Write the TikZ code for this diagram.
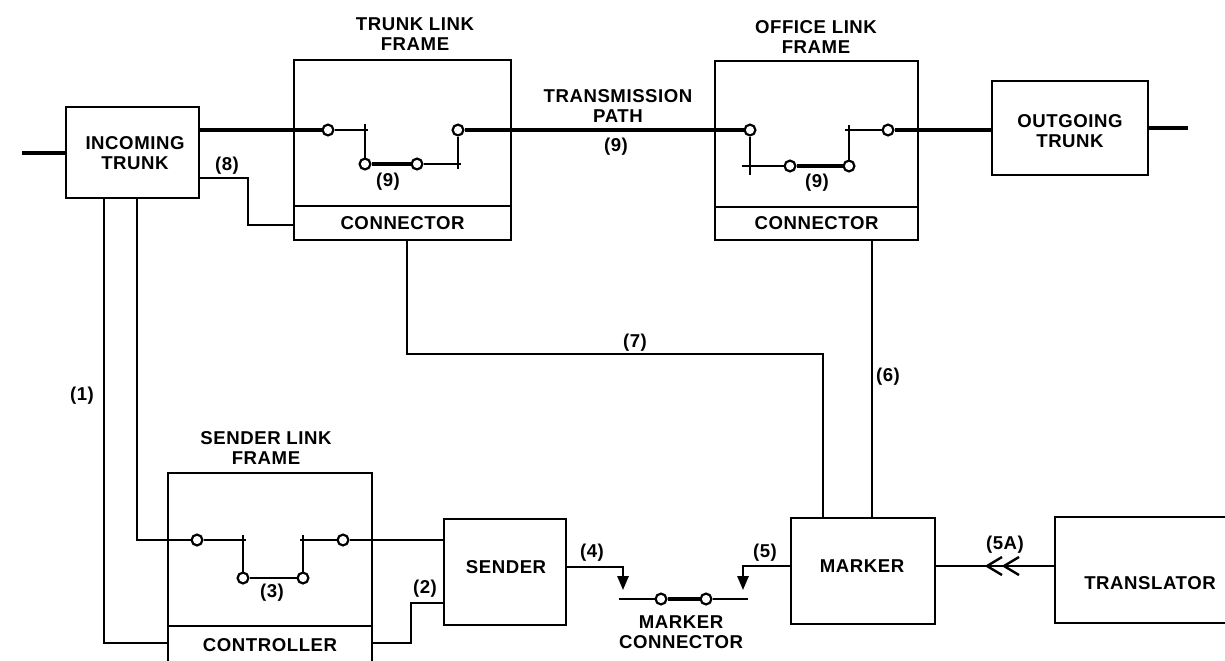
\documentclass[tikz,border=0pt]{standalone}
\usepackage{fontspec}
\setmainfont{Liberation Sans}
\newfontfamily\labfont[LetterSpace=3]{Liberation Sans}
\usetikzlibrary{arrows.meta,fit}
\begin{document}
\begin{tikzpicture}[x=0.5pt,y=-0.5pt,
  box/.style={draw, line width=1.1pt, inner sep=0pt, outer sep=0pt},
  thn/.style={line width=1.2pt},
  thk/.style={line width=2.4pt},
  mid/.style={line width=1.8pt},
  circ/.style={circle, draw, fill=white, inner sep=0pt, minimum size=5.4pt, line width=1.1pt},
  lbl/.style={font=\labfont\fontsize{9.3}{10}\selectfont\bfseries, align=center, inner sep=0pt},
  tip/.style={-{Triangle[length=7pt,width=5.6pt]}},
  line join=miter
]
\clip (0,0) rectangle (1225,660);
% boxes
\node[box, fit={(66,107)(199,198)}] (inc) {};
\node[box, fit={(294,60)(511,206)}] (tlf) {};
\node[box, fit={(294,206)(511,240)}] (tlc) {};
\node[box, fit={(715,61)(918,207)}] (olf) {};
\node[box, fit={(715,207)(918,240)}] (olc) {};
\node[box, fit={(992,81)(1148,175)}] (out) {};
\node[box, fit={(168,473)(372,626)}] (slf) {};
\node[box, fit={(168,626)(372,664)}] (ctl) {};
\node[box, fit={(444,519)(566,625)}] (snd) {};
\node[box, fit={(791,518)(935,624)}] (mkr) {};
\node[box, fit={(1055,517)(1262,623)}] (trn) {};
% switch contacts
\node[circ] (a1) at (328,130) {};
\node[circ] (a2) at (365,164) {};
\node[circ] (a3) at (417,164) {};
\node[circ] (a4) at (458,130) {};
\node[circ] (b1) at (750,130) {};
\node[circ] (b2) at (790,166) {};
\node[circ] (b3) at (849,166) {};
\node[circ] (b4) at (888,130) {};
\node[circ] (s1) at (197,540) {};
\node[circ] (s2) at (243,578) {};
\node[circ] (s3) at (303,578) {};
\node[circ] (s4) at (343,540) {};
\node[circ] (m1) at (661,599) {};
\node[circ] (m2) at (706,599) {};
% coordinates
\coordinate (w0) at (22,153);
\coordinate (w9) at (1188,128);
\coordinate (p8a) at (248,178);
\coordinate (p8b) at (248,225);
\coordinate (p7a) at (407,354);
\coordinate (p7b) at (823,354);
\coordinate (p6) at (872,300);
\coordinate (p1) at (104,643);
\coordinate (q1) at (137,540);
\coordinate (p2a) at (411,643);
\coordinate (p2b) at (411,603);
\coordinate (p4) at (623,567);
\coordinate (p4t) at (623,590);
\coordinate (p5) at (743,566);
\coordinate (p5t) at (743,590);
\coordinate (mc0) at (619,599);
\coordinate (mc3) at (748,599);
\coordinate (p5a) at (1000,566);
% transmission path
\draw[thk] (w0) -- (inc.west |- w0);
\draw[thk] (inc.east |- a1) -- (a1);
\draw[thn] (a1) -- (368,130);
\draw[thn] (365,124) -- (a2);
\draw[thk] (a2) -- (a3);
\draw[thn] (a3) -- (461,164);
\draw[thn] (458,169) -- (a4);
\draw[thk] (a4) -- (b1);
\draw[thn] (b1) -- (750,175);
\draw[thn] (742,166) -- (b2);
\draw[thk] (b2) -- (b3);
\draw[thn] (b3) -- (849,125);
\draw[thn] (845,130) -- (b4);
\draw[thk] (b4) -- (out.west |- b4);
\draw[thk] (out.east |- w9) -- (w9);
% control paths
\draw[thn] (inc.east |- p8a) -- (p8a) -- (p8b) -- (tlc.west |- p8b);
\draw[thn] (tlc.south -| p7a) -- (p7a) -- (p7b) -- (mkr.north -| p7b);
\draw[thn] (olc.south -| p6) -- (mkr.north -| p6);
\draw[thn] (inc.south -| p1) -- (p1) -- (ctl.west |- p1);
\draw[thn] (inc.south -| q1) -- (q1) -- (s1);
\draw[thn] (s1) -- (246,540);
\draw[thn] (243,535) -- (s2);
\draw[thn] (s2) -- (s3);
\draw[thn] (s3) -- (303,535);
\draw[thn] (300,540) -- (s4);
\draw[thn] (s4) -- (snd.west |- s4);
\draw[thn] (ctl.east |- p2a) -- (p2a) -- (p2b) -- (snd.west |- p2b);
\draw[thn, tip] (snd.east |- p4) -- (p4) -- (p4t);
\draw[thn, tip] (mkr.west |- p5) -- (p5) -- (p5t);
\draw[thn] (mc0) -- (m1);
\draw[mid] (m1) -- (m2);
\draw[thn] (m2) -- (mc3);
\draw[thn] (trn.west |- p5a) -- (mkr.east |- p5a);
\draw[line width=1.2pt] (1002,557) -- (987,566) -- (1002,575);
\draw[line width=1.2pt] (1019,557) -- (1004,566) -- (1019,575);
% labels
\node[lbl] (tinc) at (135,153) {INCOMING\\TRUNK};
\node[lbl] (ttlf) at (415,34) {TRUNK LINK\\FRAME};
\node[lbl] (tolf) at (816,37) {OFFICE LINK\\FRAME};
\node[lbl] (ttp) at (618,106) {TRANSMISSION\\PATH};
\node[lbl] (tout) at (1070,131) {OUTGOING\\TRUNK};
\node[lbl] (ttlc) at (tlc) {CONNECTOR};
\node[lbl] (tolc) at (olc) {CONNECTOR};
\node[lbl] (tslf) at (266,448) {SENDER LINK\\FRAME};
\node[lbl] (tctl) at (270,645) {CONTROLLER};
\node[lbl] (tsnd) at (506,567) {SENDER};
\node[lbl] (tmkr) at (862,566) {MARKER};
\node[lbl] (ttrn) at (1150,583) {TRANSLATOR};
\node[lbl] (tmc) at (681,632) {MARKER\\CONNECTOR};
\node[lbl] (l8) at (227,166) {(8)};
\node[lbl] (l9a) at (388,182) {(9)};
\node[lbl] (l9b) at (616,147) {(9)};
\node[lbl] (l9c) at (817,183) {(9)};
\node[lbl] (l1) at (82,396) {(1)};
\node[lbl] (l2) at (425,589) {(2)};
\node[lbl] (l3) at (272,593) {(3)};
\node[lbl] (l4) at (592,553) {(4)};
\node[lbl] (l5) at (765,553) {(5)};
\node[lbl] (l5a) at (1005,545) {(5A)};
\node[lbl] (l6) at (888,377) {(6)};
\node[lbl] (l7) at (635,343) {(7)};
\end{tikzpicture}
\end{document}
